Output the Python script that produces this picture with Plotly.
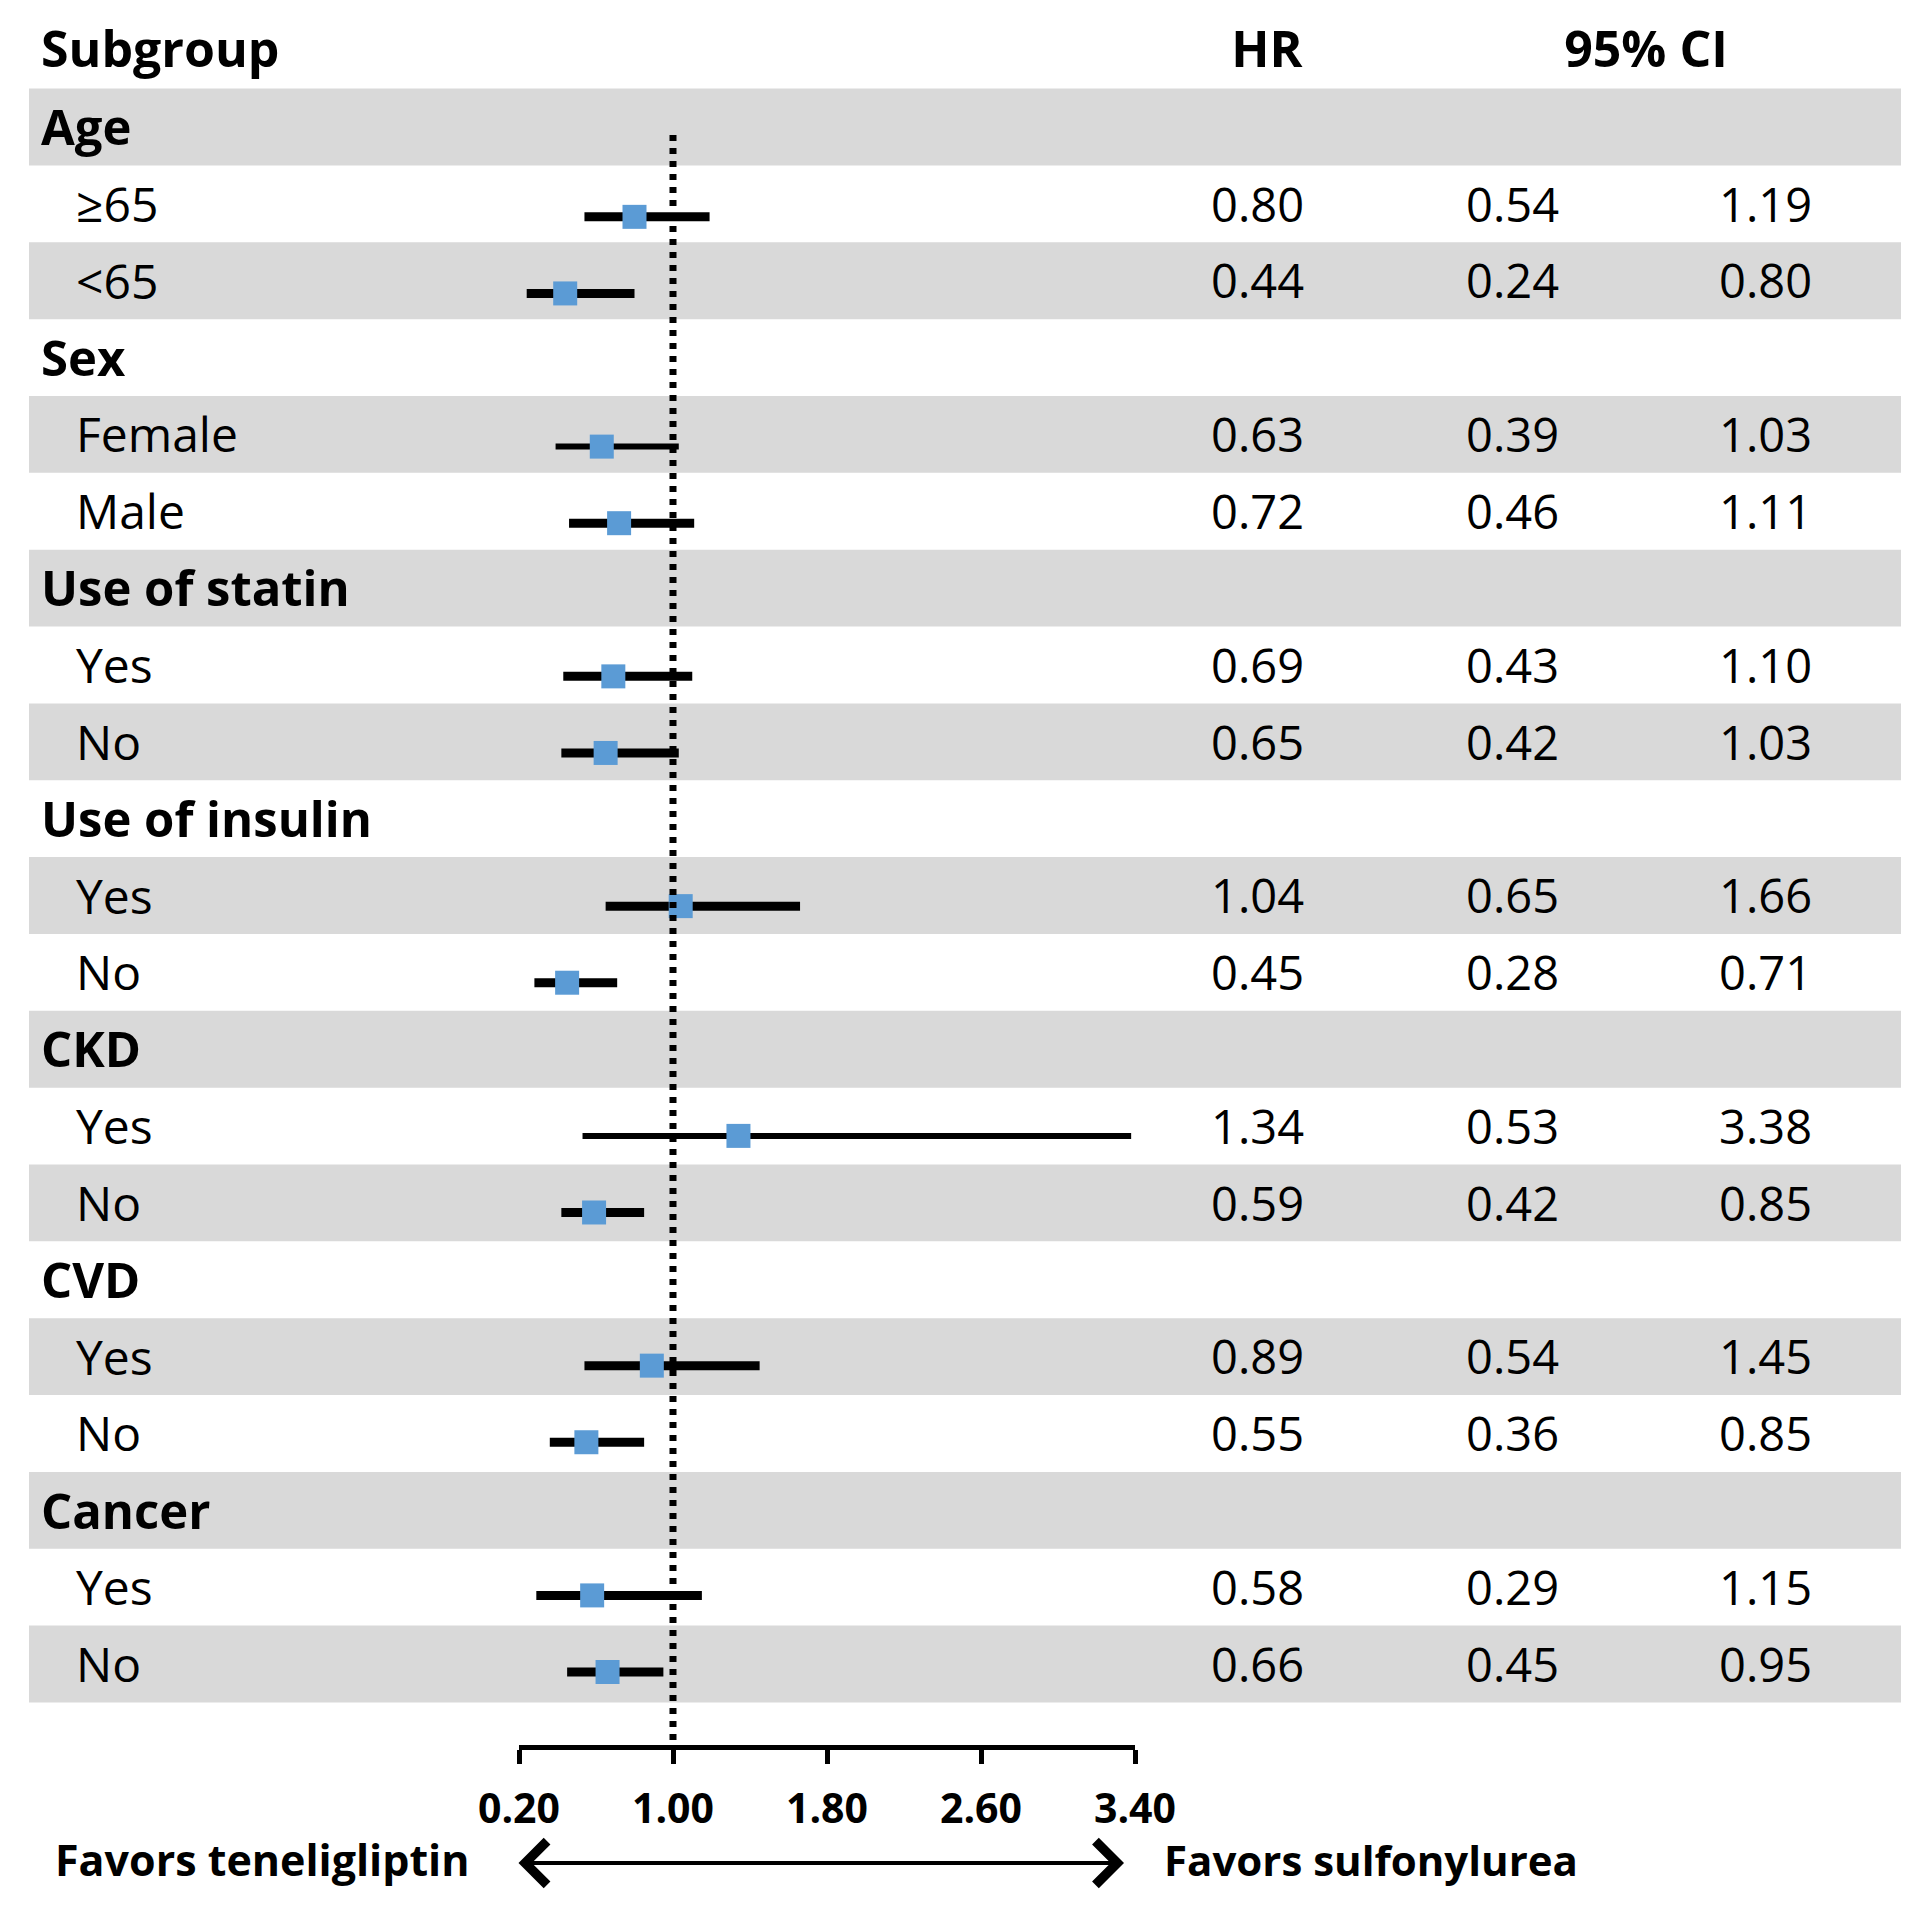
import plotly.graph_objects as go

# ---------------- data ----------------
groups = ["Age", "Sex", "Use of statin", "Use of insulin", "CKD", "CVD", "Cancer"]
subgroups = [["≥65", "<65"], ["Female", "Male"], ["Yes", "No"], ["Yes", "No"],
             ["Yes", "No"], ["Yes", "No"], ["Yes", "No"]]
hr = [0.80, 0.44, 0.63, 0.72, 0.69, 0.65, 1.04, 0.45, 1.34, 0.59, 0.89, 0.55, 0.58, 0.66]
ci_low = [0.54, 0.24, 0.39, 0.46, 0.43, 0.42, 0.65, 0.28, 0.53, 0.42, 0.54, 0.36, 0.29, 0.45]
ci_high = [1.19, 0.80, 1.03, 1.11, 1.10, 1.03, 1.66, 0.71, 3.38, 0.85, 1.45, 0.85, 1.15, 0.95]
tick_vals = [0.20, 1.00, 1.80, 2.60, 3.40]
tick_text = ["0.20", "1.00", "1.80", "2.60", "3.40"]
headers = ["Subgroup", "HR", "95% CI"]
favors = ["Favors teneligliptin", "Favors sulfonylurea"]

# ---------------- layout geometry (figure pixels) ----------------
W, H = 1932, 1916
OFF = 8                      # page margin around the plot div
ROW0, PITCH = 127 - OFF, 76.85
F_ROW0, F_PITCH = 140.26 - OFF, 76.587   # forest marks sit slightly below row centres
TXT_DY = 6 / PITCH                        # text baseline nudge
FONT = "Open Sans"
thin_rows = {("Sex", "Female"), ("CKD", "Yes")}


def px(v):
    return v - OFF


# build row table
row_labels, row_is_group, item_rows, item_keys = [], [], [], []
for g, subs in zip(groups, subgroups):
    row_labels.append(g); row_is_group.append(True)
    for s in subs:
        item_rows.append(len(row_labels)); item_keys.append((g, s))
        row_labels.append(s); row_is_group.append(False)
n_rows = len(row_labels)

fig = go.Figure()

# background bands (paper x-ref so they sit below every subplot)
shapes = []
for i in range(n_rows):
    if i % 2 == 0:
        shapes.append(dict(type="rect", xref="paper", yref="y",
                           x0=px(29) / W, x1=px(1901) / W,
                           y0=i - 0.5, y1=i + 0.5, fillcolor="#D9D9D9",
                           line=dict(width=0), layer="below"))
# reference line at 1.0
axis_py = px(1747)
shapes.append(dict(type="line", xref="x2", yref="paper", x0=1.0, x1=1.0,
                   y0=1 - px(135) / H, y1=1 - axis_py / H,
                   line=dict(color="black", width=7, dash="6px,7px")))

TXT = dict(mode="text", xaxis="x3", yaxis="y", showlegend=False, hoverinfo="skip")

# subgroup labels
grp_y = [i for i in range(n_rows) if row_is_group[i]]
item_ty = [r + TXT_DY for r in item_rows]
fig.add_trace(go.Scatter(x=[px(41)] * len(grp_y), y=[r + TXT_DY for r in grp_y],
                         text=[row_labels[i] for i in grp_y], textposition="middle right",
                         textfont=dict(family=FONT, size=49, color="black", weight="bold"), **TXT))
fig.add_trace(go.Scatter(x=[px(76)] * len(item_rows), y=item_ty,
                         text=[row_labels[i] for i in item_rows], textposition="middle right",
                         textfont=dict(family=FONT, size=48, color="black"), **TXT))
# value columns
for vals, xr in [(hr, 1304), (ci_low, 1559), (ci_high, 1812)]:
    fig.add_trace(go.Scatter(x=[px(xr)] * len(vals), y=item_ty,
                             text=[f"{v:.2f}" for v in vals], textposition="middle left",
                             textfont=dict(family=FONT, size=47, color="black"), **TXT))
# headers
hy = -1 + 4 / PITCH
fig.add_trace(go.Scatter(x=[px(41)], y=[hy], text=[headers[0]], textposition="middle right",
                         textfont=dict(family=FONT, size=50, color="black", weight="bold"), **TXT))
fig.add_trace(go.Scatter(x=[px(1267), px(1646)], y=[hy, hy], text=headers[1:],
                         textposition="middle center",
                         textfont=dict(family=FONT, size=50, color="black", weight="bold"), **TXT))

# CI lines
for thin in (False, True):
    xs, ys = [], []
    for k, key in enumerate(item_keys):
        if (key in thin_rows) == thin:
            xs += [ci_low[k], ci_high[k], None]
            ys += [item_rows[k], item_rows[k], None]
    fig.add_trace(go.Scatter(x=xs, y=ys, mode="lines",
                             line=dict(color="black", width=6 if thin else 9),
                             xaxis="x2", yaxis="y2", showlegend=False, hoverinfo="skip"))
# HR squares
fig.add_trace(go.Scatter(x=hr, y=item_rows, mode="markers",
                         marker=dict(symbol="square", size=24, color="#5B9BD5",
                                     line=dict(width=0)),
                         xaxis="x2", yaxis="y2", showlegend=False, hoverinfo="skip"))

# favors texts and arrow
arrow_y = (px(1863) - ROW0) / PITCH
text_y = (px(1859) - ROW0) / PITCH
annotations = [
    dict(x=px(472), y=text_y, xref="x3", yref="y", text=favors[0], showarrow=False,
         xanchor="right", yanchor="middle",
         font=dict(family=FONT, size=43, color="black", weight="bold")),
    dict(x=px(1162), y=text_y, xref="x3", yref="y", text=favors[1], showarrow=False,
         xanchor="left", yanchor="middle",
         font=dict(family=FONT, size=42, color="black", weight="bold")),
    dict(x=px(1124), y=arrow_y, ax=px(517), ay=arrow_y, xref="x3", yref="y",
         axref="x3", ayref="y",
         text="", showarrow=True, arrowside="end+start", arrowhead=4, startarrowhead=4,
         arrowsize=2.1, startarrowsize=2.1, arrowwidth=4, arrowcolor="black"),
]

fig.update_layout(
    template="none",
    width=W, height=H, autosize=False,
    margin=dict(l=0, r=0, t=0, b=0, pad=0, autoexpand=False),
    paper_bgcolor="white", plot_bgcolor="rgba(0,0,0,0)",
    shapes=shapes, annotations=annotations, showlegend=False,
    xaxis3=dict(domain=[0, 1], range=[0, W], visible=False, anchor="y", automargin=False),
    yaxis=dict(domain=[0, 1], range=[(H - ROW0) / PITCH, -ROW0 / PITCH], visible=False,
               anchor="x3", automargin=False),
    yaxis2=dict(domain=[0, 1], range=[(H - F_ROW0) / F_PITCH, -F_ROW0 / F_PITCH],
                visible=False, overlaying="y", anchor="x2", automargin=False),
    xaxis2=dict(domain=[px(519) / W, px(1135) / W], range=[0.2, 3.4], anchor="free",
                position=1 - axis_py / H, showline=True, linecolor="black", linewidth=5,
                ticks="outside", ticklen=14, tickwidth=5, tickcolor="black",
                tickvals=tick_vals, ticktext=tick_text, showgrid=False, zeroline=False,
                ticklabelstandoff=10, automargin=False,
                tickfont=dict(family=FONT, size=41, color="black", weight="bold")),
)

fig.write_html("out.html")
